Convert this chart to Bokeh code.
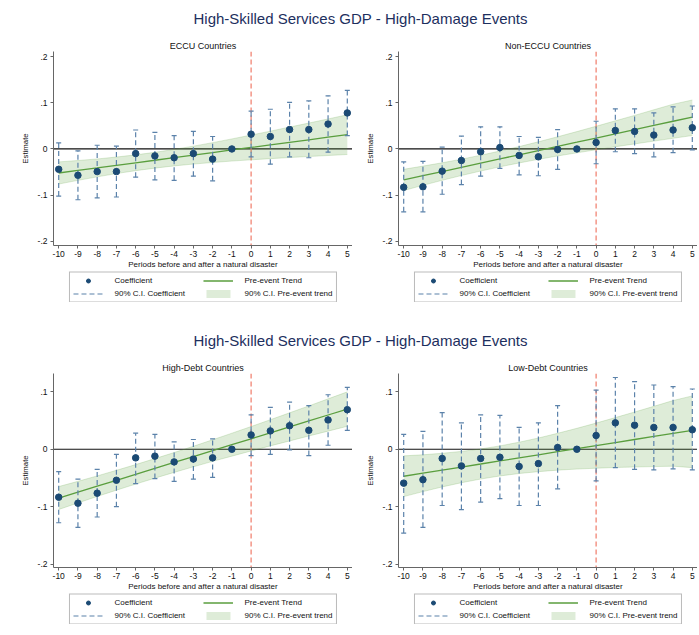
from bokeh.plotting import figure
from bokeh.models import Div, FixedTicker, Legend, LegendItem, Span, Range1d, Spacer
from bokeh.layouts import column, row
from bokeh.embed import file_html
from bokeh.resources import INLINE

main_title = "High-Skilled Services GDP - High-Damage Events"
x_label = "Periods before and after a natural disaster"
periods = [-10, -9, -8, -7, -6, -5, -4, -3, -2, -1, 0, 1, 2, 3, 4, 5]

# ECCU countries
eccu_coef = [-0.044, -0.057, -0.049, -0.049, -0.010, -0.015, -0.019, -0.010, -0.022, 0.0,
             0.032, 0.027, 0.042, 0.042, 0.054, 0.078]
eccu_ci_hi = [0.013, -0.004, 0.008, 0.006, 0.041, 0.036, 0.029, 0.038, 0.027, None,
              0.082, 0.086, 0.101, 0.104, 0.115, 0.127]
eccu_ci_lo = [-0.102, -0.110, -0.106, -0.104, -0.061, -0.067, -0.068, -0.059, -0.069, None,
              -0.017, -0.033, -0.017, -0.019, -0.007, 0.029]
eccu_trend = [-0.052, -0.0465, -0.041, -0.0354, -0.0299, -0.0244, -0.0188, -0.0133, -0.0078, -0.0022,
              0.0033, 0.0088, 0.0144, 0.0199, 0.0254, 0.031]
eccu_band_hi = [-0.028, -0.025, -0.0216, -0.0175, -0.0128, -0.0073, -0.0009, 0.0061, 0.0137, 0.0218,
                0.0301, 0.0386, 0.0474, 0.0561, 0.065, 0.074]
eccu_band_lo = [-0.076, -0.068, -0.0604, -0.0533, -0.047, -0.0415, -0.0367, -0.0327, -0.0293, -0.0262,
                -0.0235, -0.021, -0.0186, -0.0163, -0.0142, -0.012]

# Non-ECCU countries
noneccu_coef = [-0.083, -0.082, -0.048, -0.025, -0.006, 0.003, -0.014, -0.017, -0.001, 0.0,
                0.014, 0.040, 0.038, 0.030, 0.041, 0.046]
noneccu_ci_hi = [-0.028, -0.027, 0.004, 0.028, 0.048, 0.048, 0.027, 0.025, 0.042, None,
                 0.060, 0.087, 0.087, 0.078, 0.091, 0.093]
noneccu_ci_lo = [-0.136, -0.136, -0.098, -0.077, -0.059, -0.042, -0.056, -0.058, -0.044, None,
                 -0.032, -0.006, -0.010, -0.017, -0.008, -0.002]
noneccu_trend = [-0.067, -0.0579, -0.0489, -0.0398, -0.0307, -0.0216, -0.0126, -0.0035, 0.0056, 0.0146,
                 0.0237, 0.0328, 0.0418, 0.0509, 0.06, 0.069]
noneccu_band_hi = [-0.044, -0.0371, -0.0299, -0.0221, -0.0136, -0.0045, 0.0051, 0.0155, 0.0264, 0.0376,
                   0.0492, 0.0609, 0.0727, 0.0848, 0.0969, 0.106]
noneccu_band_lo = [-0.090, -0.0787, -0.0679, -0.0575, -0.0478, -0.0387, -0.0303, -0.0225, -0.0152, -0.0084,
                   -0.0018, 0.0047, 0.0109, 0.017, 0.0231, 0.029]

# High-debt countries
highdebt_coef = [-0.0835, -0.094, -0.0765, -0.054, -0.015, -0.012, -0.022, -0.017, -0.015, 0.0,
                 0.025, 0.032, 0.041, 0.033, 0.051, 0.069]
highdebt_ci_hi = [-0.039, -0.052, -0.035, -0.009, 0.028, 0.026, 0.013, 0.017, 0.018, None,
                  0.060, 0.073, 0.082, 0.076, 0.095, 0.108]
highdebt_ci_lo = [-0.128, -0.136, -0.118, -0.100, -0.060, -0.051, -0.056, -0.052, -0.049, None,
                  -0.011, -0.009, -0.001, -0.011, 0.007, 0.033]
highdebt_trend = [-0.085, -0.0747, -0.0643, -0.054, -0.0437, -0.0333, -0.023, -0.0127, -0.0023, 0.008,
                  0.0183, 0.0287, 0.039, 0.0493, 0.0597, 0.070]
highdebt_band_hi = [-0.065, -0.0559, -0.0464, -0.0367, -0.0267, -0.0163, -0.0057, 0.0052, 0.0165, 0.028,
                    0.0396, 0.0515, 0.0635, 0.0755, 0.0878, 0.100]
highdebt_band_lo = [-0.105, -0.0935, -0.0822, -0.0713, -0.0607, -0.0503, -0.0403, -0.0306, -0.0211, -0.012,
                    -0.003, 0.0059, 0.0145, 0.0231, 0.0316, 0.040]

# Low-debt countries
lowdebt_coef = [-0.059, -0.053, -0.016, -0.029, -0.016, -0.014, -0.030, -0.025, 0.003, 0.0,
                0.024, 0.046, 0.042, 0.038, 0.038, 0.034]
lowdebt_ci_hi = [0.026, 0.031, 0.064, 0.046, 0.060, 0.059, 0.038, 0.046, 0.076, None,
                 0.103, 0.125, 0.118, 0.112, 0.109, 0.105]
lowdebt_ci_lo = [-0.146, -0.136, -0.098, -0.105, -0.092, -0.086, -0.098, -0.098, -0.069, None,
                 -0.055, -0.032, -0.035, -0.036, -0.034, -0.036]
lowdebt_trend = [-0.047, -0.0417, -0.0363, -0.031, -0.0257, -0.0203, -0.015, -0.0097, -0.0043, 0.001,
                 0.0063, 0.0117, 0.017, 0.0223, 0.0277, 0.033]
lowdebt_band_hi = [-0.0115, -0.0096, -0.007, -0.0037, 0.0005, 0.0059, 0.0123, 0.0196, 0.0278, 0.0365,
                   0.0456, 0.0552, 0.0649, 0.0748, 0.0849, 0.093]
lowdebt_band_lo = [-0.0825, -0.0738, -0.0656, -0.0583, -0.0519, -0.0465, -0.0423, -0.039, -0.0364, -0.0345,
                   -0.033, -0.0318, -0.0309, -0.0302, -0.0295, -0.032]

top_ticks = [-0.2, -0.1, 0.0, 0.1, 0.2]
top_tick_labels = ["-.2", "-.1", "0", ".1", ".2"]
bottom_ticks = [-0.2, -0.1, 0.0, 0.1]
bottom_tick_labels = ["-.2", "-.1", "0", ".1"]

legend_labels = ["Coefficient", "Pre-event Trend", "90% C.I. Coefficient", "90% C.I. Pre-event trend"]

FONT = "Liberation Sans"
DOT = "#1b4a74"
CI = "#5b82aa"
GREEN = "#5a9e3e"
RED = "#f07a68"
NAN = [float("nan")]

# left / right borders of the left and right columns of panels
LEFT_COL = (53, 0)
RIGHT_COL = (46, 0)


def make_panel(name, coef, ci_lo, ci_hi, trend, band_lo, band_hi, y_range, ticks, tick_labels, borders):
    p = figure(frame_width=299, frame_height=194, x_range=Range1d(-10.27, 5.27), y_range=Range1d(*y_range),
               output_backend="svg", toolbar_location=None, title=name,
               min_border_left=borders[0], min_border_right=borders[1], min_border_top=12, min_border_bottom=24)
    p.title.align = "center"
    p.title.text_font = FONT
    p.title.text_font_size = "9px"
    p.title.text_font_style = "normal"
    p.title.text_color = "#111111"
    p.title.standoff = 1
    p.grid.visible = False
    p.outline_line_color = None

    p.xaxis.ticker = FixedTicker(ticks=periods)
    p.xaxis.axis_label = x_label
    p.xaxis.major_label_overrides = {x: str(x) for x in periods}
    p.yaxis.ticker = FixedTicker(ticks=ticks)
    p.yaxis.major_label_overrides = dict(zip(ticks, tick_labels))
    p.yaxis.axis_label = "Estimate"
    for ax in p.axis:
        ax.axis_line_color = "#666666"
        ax.major_tick_line_color = "#666666"
        ax.minor_tick_line_color = None
        ax.major_tick_in = 0
        ax.major_tick_out = 3
        ax.major_label_text_font = FONT
        ax.major_label_text_font_size = "8.5px"
        ax.major_label_text_color = "#111111"
        ax.axis_label_text_font = FONT
        ax.axis_label_text_font_style = "normal"
        ax.axis_label_text_color = "#111111"
        ax.axis_label_standoff = 0
    p.xaxis.axis_label_text_font_size = "8px"
    p.yaxis.axis_label_text_font_size = "7.8px"
    p.yaxis.axis_label_standoff = 5
    p.xaxis.major_label_standoff = 2
    p.yaxis.major_label_standoff = 3

    p.add_layout(Span(location=0, dimension="width", line_color="#111111", line_width=1.2, level="underlay"))
    p.add_layout(Span(location=0, dimension="height", line_color=RED, line_width=1.2,
                      line_dash="5 3", level="underlay"))

    p.varea(x=periods, y1=band_lo, y2=band_hi, fill_color=GREEN, fill_alpha=0.2)
    p.line(x=periods, y=band_lo, line_color=GREEN, line_alpha=0.25, line_width=0.8)
    p.line(x=periods, y=band_hi, line_color=GREEN, line_alpha=0.25, line_width=0.8)
    p.line(x=periods, y=trend, line_color=GREEN, line_width=1.3)

    xs = [x for x, lo in zip(periods, ci_lo) if lo is not None]
    los = [lo for lo in ci_lo if lo is not None]
    his = [hi for hi in ci_hi if hi is not None]
    p.segment(x0=xs, y0=los, x1=xs, y1=his, line_color=CI, line_width=1.2, line_dash="5 3")
    p.scatter(x=xs + xs, y=los + his, marker="dash", size=5, line_color=CI, line_width=1.2)

    p.scatter(x=periods, y=coef, size=6.5, fill_color=DOT, line_color=DOT)
    return p


def make_legend_box(borders):
    # separate strip under each panel that only holds the 2x2 legend box;
    # the glyphs get one NaN row so the legend can draw their samples
    lf = figure(frame_width=299, height=31, x_range=Range1d(0, 1), y_range=Range1d(0, 1),
                output_backend="svg", toolbar_location=None,
                min_border_left=borders[0], min_border_right=borders[1], min_border_top=0, min_border_bottom=0)
    lf.axis.visible = False
    lf.grid.visible = False
    lf.outline_line_color = None
    dots = lf.scatter(x=NAN, y=NAN, size=6.5, fill_color=DOT, line_color=DOT)
    trend_line = lf.line(x=NAN, y=NAN, line_color=GREEN, line_width=1.3)
    ci_seg = lf.segment(x0=NAN, y0=NAN, x1=NAN, y1=NAN, line_color=CI, line_width=1.2, line_dash="5 3")
    band = lf.varea(x=NAN, y1=NAN, y2=NAN, fill_color=GREEN, fill_alpha=0.2)
    legend = Legend(items=[
        LegendItem(label=legend_labels[0], renderers=[dots]),
        LegendItem(label=legend_labels[1], renderers=[trend_line]),
        LegendItem(label=legend_labels[2], renderers=[ci_seg]),
        LegendItem(label=legend_labels[3], renderers=[band]),
    ], orientation="horizontal", nrows=2, ncols=2, location="center")
    legend.label_text_font = FONT
    legend.label_text_font_size = "8px"
    legend.label_text_color = "#111111"
    legend.label_height = 10
    legend.label_width = 85
    legend.glyph_width = 30
    legend.glyph_height = 10
    legend.label_standoff = 12
    legend.spacing = 3
    legend.padding = 3
    legend.margin = 0
    legend.border_line_color = "#777777"
    legend.border_line_width = 1
    lf.add_layout(legend)
    return lf


def make_title():
    return Div(text=main_title, width=697, height=28,
               styles={"font-family": FONT, "font-size": "15px", "color": "#1d2f5e",
                       "text-align": "center", "width": "697px", "line-height": "28px",
                       "padding-left": "14px", "box-sizing": "border-box"})


p1 = make_panel("ECCU Countries", eccu_coef, eccu_ci_lo, eccu_ci_hi, eccu_trend, eccu_band_lo,
                eccu_band_hi, (-0.209, 0.211), top_ticks, top_tick_labels, LEFT_COL)
p2 = make_panel("Non-ECCU Countries", noneccu_coef, noneccu_ci_lo, noneccu_ci_hi, noneccu_trend,
                noneccu_band_lo, noneccu_band_hi, (-0.209, 0.211), top_ticks, top_tick_labels, RIGHT_COL)
p3 = make_panel("High-Debt Countries", highdebt_coef, highdebt_ci_lo, highdebt_ci_hi, highdebt_trend,
                highdebt_band_lo, highdebt_band_hi, (-0.206, 0.132), bottom_ticks, bottom_tick_labels, LEFT_COL)
p4 = make_panel("Low-Debt Countries", lowdebt_coef, lowdebt_ci_lo, lowdebt_ci_hi, lowdebt_trend,
                lowdebt_band_lo, lowdebt_band_hi, (-0.206, 0.132), bottom_ticks, bottom_tick_labels, RIGHT_COL)


def block(pa, pb):
    return row(column(pa, make_legend_box(LEFT_COL), spacing=0),
               column(pb, make_legend_box(RIGHT_COL), spacing=0), spacing=0)


layout = column(make_title(), block(p1, p2), Spacer(height=20), make_title(), block(p3, p4), spacing=0)

open("out.html", "w").write(file_html(layout, INLINE))
